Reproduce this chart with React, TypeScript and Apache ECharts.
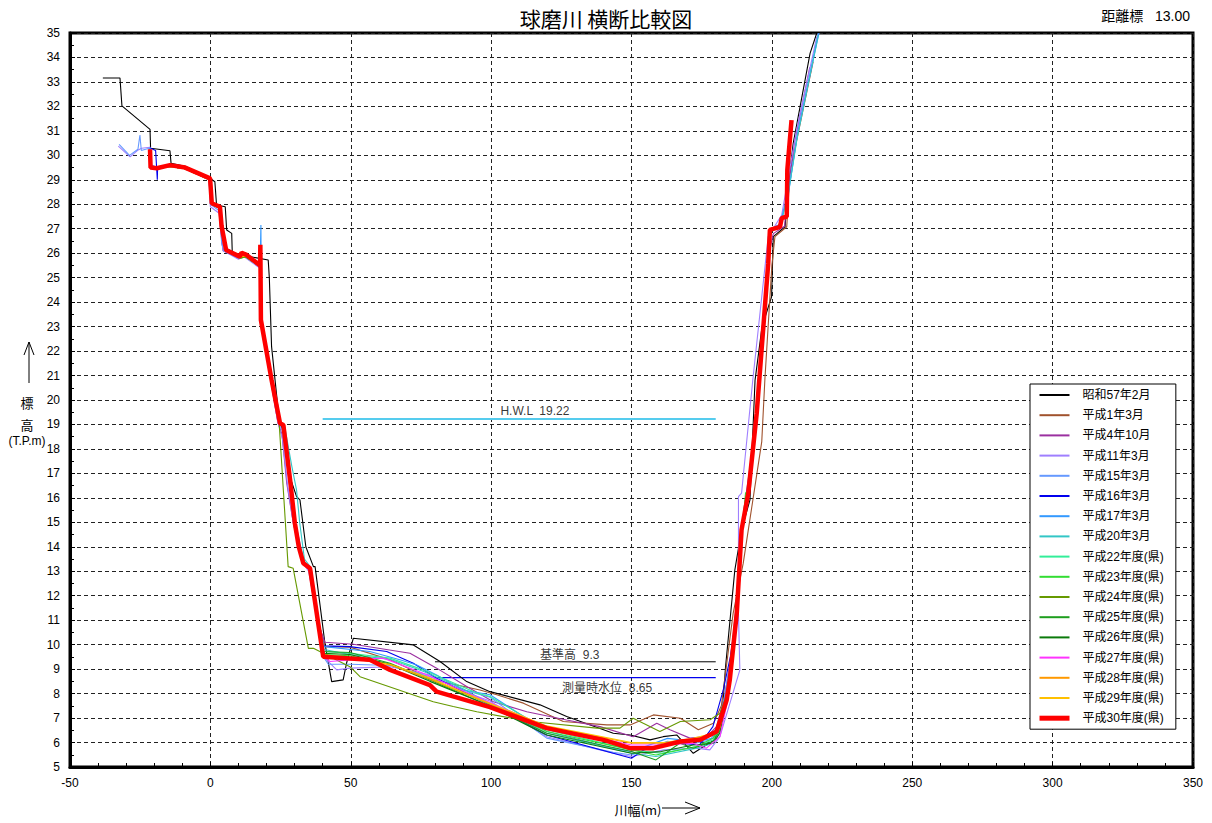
import React, { useEffect, useRef } from "react";
import * as echarts from "echarts";

const FONT = "'Liberation Sans', 'Noto Sans CJK JP', sans-serif";

const seriesNames = [
  "昭和57年2月", "平成1年3月", "平成4年10月", "平成11年3月", "平成15年3月", "平成16年3月",
  "平成17年3月", "平成20年3月", "平成22年度(県)", "平成23年度(県)", "平成24年度(県)",
  "平成25年度(県)", "平成26年度(県)", "平成27年度(県)", "平成28年度(県)", "平成29年度(県)", "平成30年度(県)",
];
const seriesColors = [
  "#000000", "#A0522D", "#9B30A0", "#9F7FFF", "#6699FF", "#0000EE",
  "#3399FF", "#33C6C6", "#33EE99", "#33DD33", "#669900",
  "#1E9E1E", "#0B7A0B", "#FF33FF", "#FF9900", "#FFC000", "#FF0000",
];

const s57 = [[-38.3,33.16],[-32.2,33.16],[-31.5,32.02],[-21.5,31.06],[-21.3,30.29],[-14.4,30.19],[-14.0,29.67],[-9,29.55],[-0.5,29.1],[1.6,28.92],[2.2,27.97],[5.3,27.9],[5.8,26.95],[7.6,26.81],[7.8,26.0],[20.6,25.72],[21.0,25.0],[21.8,22.18],[24.5,19.2],[26.5,18.5],[28.8,16.7],[30.7,16.05],[31.9,15.92],[34.0,14.0],[36.7,13.19],[37.3,13.19],[40.8,10.06],[43.2,8.49],[47.3,8.56],[48.5,9.24],[50.9,10.26],[72.3,9.99],[81.8,9.31],[91.3,8.49],[99.6,8.08],[117.4,7.54],[126.9,7.06],[143.5,6.38],[149.5,6.31],[156.6,6.11],[161.3,6.24],[166.1,6.31],[172,5.56],[175.6,5.83],[179.7,6.11],[182.5,7.5],[183.5,9.1],[186.8,13.05],[189.2,14.69],[192.2,15.92],[194,20.8],[196.5,23.0],[199.9,24.22],[200.5,26.68],[204.7,27.08],[205.8,28.72],[207.6,30.49],[213.6,34.17],[216,35]];
const h01 = [[-21.5,30.3],[-21.2,29.55],[-19,29.5],[-14.5,29.6],[-9,29.5],[-0.3,29.05],[0.3,28.0],[3.2,27.9],[3.8,27.1],[5.2,26.15],[10.3,25.85],[11,26.0],[13,25.9],[17.5,25.55],[17.9,23.3],[21.5,20.9],[24.5,19.1],[26,18.9],[28.5,16.7],[30.2,15.0],[33.2,13.3],[35.8,13.1],[38.6,10.9],[40.8,9.92],[49.7,9.9],[64,9.38],[79.4,8.56],[96,8.15],[102,7.95],[111.5,7.61],[125.7,6.86],[141.2,6.72],[149.5,6.72],[157.8,7.13],[167.4,6.99],[173.8,6.52],[179.2,6.79],[182,7.5],[186.2,11.28],[189.8,13.33],[196.4,18.3],[197.5,20.82],[200,25.5],[201.1,26.68],[205.3,27.08],[206.4,29.27],[214.7,33.83]];
const h04 = [[-21.5,30.35],[-21.3,29.54],[-19,29.45],[-14.5,29.55],[-9,29.45],[-0.5,29.0],[0.2,28.0],[3,27.85],[3.6,27.0],[4.5,26.1],[10,25.8],[11,25.95],[13,25.85],[17.5,25.45],[18,23.3],[21.5,20.8],[24,19.1],[25.5,18.6],[27.2,16.6],[29.5,15.0],[32.5,13.5],[35,13.1],[38,11.0],[40.8,10.1],[50.9,10.02],[71.1,9.65],[80.6,9.04],[91.3,8.29],[100.8,7.67],[112.7,7.26],[126.9,6.92],[138.8,6.65],[150.6,6.24],[159,6.79],[163.7,6.52],[170.8,6.18],[176.8,6.24],[180.3,6.65],[183,7.8],[185.5,9.5],[188,12.5],[190,15.5],[192.5,17.5],[195.5,20.5],[199,26.0],[200.5,26.8],[204.5,27.1],[206,28.8],[208,30.5],[213.5,33.6]];
const h11 = [[-32.8,30.38],[-28.6,29.94],[-25.7,30.22],[-24.5,30.29],[-21.5,30.33],[-21,29.6],[-19,29.5],[-14.5,29.6],[-9,29.5],[-0.5,29.0],[0,27.9],[3.5,27.6],[4,26.5],[4.6,26.1],[10,25.75],[12,25.85],[17.5,25.4],[18,23.3],[21.5,20.8],[24,19.1],[25.7,18.4],[27.5,16.5],[29.5,15.0],[32.5,13.4],[35,13.0],[38.2,11.0],[40.5,9.7],[41.4,9.38],[45,8.97],[49.7,9.04],[64,9.1],[78.2,8.76],[90,8.1],[99.6,7.7],[119.8,6.24],[143.5,5.56],[150,5.43],[161.6,5.7],[173.2,5.77],[177.9,5.7],[181.5,6.24],[188.6,8.97],[188.1,11.28],[188.1,16.05],[189.2,16.19],[193.2,20.82],[198.7,26.68],[203.5,27.56],[208.8,31.04],[216,34.85]];
const h15 = [[-32.5,30.45],[-28.8,30.0],[-25.8,30.25],[-25.1,30.83],[-24.6,30.2],[-21.5,30.3],[-21,29.6],[-19,29.5],[-14.5,29.6],[-9,29.5],[-0.4,29.0],[0,28.0],[3.5,27.7],[4,26.4],[4.8,26.1],[10,25.8],[12,25.9],[17.5,25.45],[18,23.3],[21.5,20.8],[24.2,19.1],[25.8,18.7],[28,16.7],[30,15.0],[33,13.4],[35.5,13.1],[38.3,11.0],[40.3,9.5],[42,9.2],[50,9.2],[64,9.15],[78,8.7],[90,8.15],[99.6,7.85],[119.8,6.18],[143.5,5.6],[150,5.49],[162.8,6.05],[172,5.95],[178,6.1],[181,6.6],[183,7.8],[185.5,9.5],[187.5,11.5],[189.5,14.8],[191.8,16.3],[194.8,19.6],[198.8,25.7],[199.5,26.9],[203,27.2],[204,27.6],[206,28.5],[209,30.8],[216.5,35]];
const h16 = [[-21.5,30.3],[-19.5,30.2],[-18.9,29.0],[-18.8,29.5],[-14.5,29.6],[-9,29.5],[-0.3,29.05],[0.4,28.0],[3.3,27.9],[3.9,27.1],[5.4,26.2],[10.5,25.9],[11.2,26.05],[13,25.95],[17.6,25.5],[18,23.3],[21.5,20.9],[24.5,19.1],[26,18.9],[28.4,16.7],[30.1,15.0],[33.1,13.4],[35.5,13.1],[38.5,10.9],[40.3,9.95],[49.7,9.92],[62.8,9.72],[72.3,9.24],[80.6,8.63],[96,7.74],[119.8,6.31],[150,5.36],[155.3,5.77],[167.2,5.97],[174.2,5.9],[179,6.65],[182.7,8.15],[185.2,9.5],[187.5,11.3],[189.3,14.7],[191.7,16.2],[194.7,19.5],[198.8,25.6],[199.4,26.9],[203,27.1]];
const h17 = [[-21.5,30.3],[-21,29.5],[-19,29.45],[-14.5,29.6],[-9,29.5],[-0.3,29.05],[0.4,28.0],[3.3,27.9],[3.9,27.1],[5.4,26.2],[10.5,25.9],[11.2,26.0],[13,25.9],[17.7,25.5],[18,27.15],[18.1,25.4],[18.3,23.3],[21.7,20.85],[24.7,19.1],[26.2,18.9],[28.6,16.7],[30.3,15.0],[33.3,13.4],[35.7,13.1],[38.6,10.9],[40.5,9.92],[56.8,9.72],[67.5,9.38],[73.5,9.17],[80.6,8.76],[90.1,8.15],[99.6,7.95],[119.8,6.45],[143.5,5.77],[150,5.63],[162.8,6.17],[173.2,6.04],[179.1,6.18],[181.5,6.7],[183.5,7.9],[185.3,9.4],[187.6,11.4],[189.4,14.8],[191.8,16.3],[194.9,19.6],[198.9,25.7],[199.6,27.0],[203.2,27.2],[204,27.7],[206,28.6],[209.3,31.0],[216.8,35]];
const h20 = [[-21.5,30.25],[-21,29.5],[-19,29.45],[-14.5,29.55],[-9,29.45],[-0.3,29.0],[0.4,28.0],[3.3,27.85],[3.9,27.05],[5.4,26.1],[10.5,25.85],[12,25.9],[17.7,25.5],[18.1,23.3],[21.9,20.8],[25,19.1],[26.5,18.9],[29,17.3],[30.7,16.32],[31.8,15.0],[33.5,13.5],[35.8,13.15],[38.7,10.9],[40.5,9.8],[49.7,9.6],[64,9.4],[76,8.9],[90,8.2],[96,7.81],[119.8,6.38],[150,5.56],[158.7,5.43],[173.2,5.77],[179.1,5.97],[181.5,6.4],[183.8,7.7],[185.2,8.8],[187.6,11.3],[189.3,14.7],[191.7,16.2],[194.7,19.5],[198.8,25.6],[199.5,26.95],[203,27.1],[203.8,27.5],[205.8,28.4],[209,30.7],[216.5,34.9]];
const h22 = [[-21.5,30.2],[-21.2,29.5],[-19,29.45],[-14.5,29.55],[-9,29.45],[-0.2,29.0],[0.5,28.0],[3.4,27.85],[4,27.05],[5.6,26.1],[10.5,25.85],[12.5,25.9],[17.7,25.45],[18.1,23.25],[21.8,20.8],[24.8,19.05],[26,18.95],[28.4,16.7],[30.1,14.95],[33.1,13.3],[35.5,13.1],[38.4,10.9],[40.2,9.72],[49.7,9.65],[64,9.45],[75.8,8.97],[94.9,8.02],[99.6,7.88],[119.8,6.52],[150,5.7],[160.5,5.56],[173.2,5.84],[179.1,6.11],[181.5,6.6],[183.9,7.8],[185,8.6],[187.5,11.3],[189.2,14.7],[191.6,16.2],[194.6,19.5],[198.5,25.0]];
const h23 = [[-21.5,30.2],[-21.2,29.5],[-19,29.45],[-14.5,29.55],[-9,29.45],[-0.2,29.0],[0.5,28.0],[3.4,27.85],[4,27.05],[5.6,26.1],[10.5,25.8],[12.5,25.85],[17.7,25.45],[18.1,23.25],[21.8,20.8],[24.8,19.1],[26,18.95],[28.4,16.7],[30.1,14.95],[33.1,13.35],[35.5,13.1],[38.4,10.9],[40.3,9.6],[49.7,9.55],[64,9.2],[78,8.6],[96,7.74],[119.8,6.45],[150,5.7],[158.7,5.49],[173.2,5.84],[179.1,6.18],[181.5,6.6],[184,7.8],[185.2,8.6],[187.7,11.3],[189.5,14.7],[190.6,16.19],[191.5,16.3],[192.5,17.0]];
const h24 = [[-21.5,30.2],[-21.2,29.5],[-19,29.45],[-14.5,29.55],[-9,29.45],[-0.2,29.0],[0.5,28.0],[3.4,27.85],[4,27.05],[5.6,26.1],[10.5,25.8],[12.5,25.85],[17.7,25.45],[18.1,23.25],[21.8,20.8],[24.2,19.25],[24.5,19.05],[27.7,13.19],[29.5,13.12],[34.9,9.85],[36.7,9.85],[40.2,9.65],[49.7,9.1],[53.3,8.69],[79.4,7.67],[86.5,7.47],[94.9,7.26],[113.8,6.86],[137.6,6.59],[145.9,6.59],[150.6,6.99],[160.1,6.45],[167.4,6.86],[178,6.93],[181.5,7.2],[184,8.0],[185.3,8.8],[187.8,11.4],[189.5,14.8],[191.5,16.2]];
const h25 = [[-21.5,30.2],[-21.2,29.5],[-19,29.45],[-14.5,29.55],[-9,29.45],[-0.2,29.0],[0.5,28.0],[3.4,27.85],[4,27.05],[5.6,26.1],[10.5,25.85],[12.5,25.9],[17.7,25.45],[18.1,23.25],[21.8,20.8],[24.8,19.1],[26,18.95],[28.4,16.7],[30.1,14.95],[33.1,13.4],[35.5,13.15],[38.4,10.9],[40.2,9.72],[49.7,9.68],[64,9.24],[78.2,8.56],[96,7.67],[119.8,6.38],[150,5.63],[158.7,5.29],[167.2,5.97],[172,5.77],[179.1,6.04],[181.5,6.5],[184,7.8],[185.2,8.7],[187.6,11.3],[189.3,14.7],[191.7,16.2],[194.7,19.5],[198.7,25.6],[199.3,26.9],[203,27.1]];
const h26 = [[-21.5,30.2],[-21.2,29.5],[-19,29.45],[-14.5,29.55],[-9,29.45],[-0.2,29.0],[0.5,28.0],[3.4,27.85],[4,27.05],[5.6,26.1],[10.5,25.85],[12.5,25.9],[17.7,25.45],[18.1,23.25],[21.8,20.8],[24.8,19.1],[26,18.95],[28.4,16.7],[30.1,14.95],[33.1,13.35],[35.5,13.1],[38.4,10.9],[40.2,9.65],[49.7,9.6],[64,9.2],[78.2,8.5],[96,7.67],[119.8,6.31],[150,5.56],[160.6,5.63],[172,5.9],[179.1,5.97],[181.5,6.4],[184,7.8],[185.1,8.6],[187.6,11.3],[189.3,14.7],[191.7,16.2],[194.7,19.5],[198.7,25.6],[199.3,26.95],[203,27.1]];
const h27 = [[-21.5,30.2],[-21.2,29.5],[-19,29.45],[-14.5,29.55],[-9,29.45],[-0.2,29.0],[0.5,28.0],[3.4,27.85],[4,27.05],[5.6,26.1],[10.5,25.85],[12.5,25.9],[17.7,25.45],[18.1,23.25],[21.8,20.8],[24.8,19.05],[26,18.95],[28.4,16.7],[30.1,14.95],[33.1,13.3],[35.5,13.1],[38.4,10.9],[40.5,9.5],[42.6,9.31],[49.7,9.38],[61.6,9.45],[75.8,8.83],[96,7.81],[119.8,6.65],[150,5.9],[161.6,5.9],[172,5.97],[176.7,5.77],[181.5,6.24],[184,7.6],[185.1,8.6],[187.5,11.3],[189.2,14.7],[191.6,16.2],[194.6,19.5],[198.7,25.6],[199.3,26.95],[203,27.08]];
const h28 = [[-21.5,30.2],[-21.2,29.5],[-19,29.45],[-14.5,29.55],[-9,29.45],[-0.2,29.0],[0.5,28.0],[3.4,27.85],[4,27.05],[5.6,26.1],[10.5,25.85],[12.5,25.9],[17.7,25.45],[18.1,23.25],[21.8,20.8],[24.8,19.05],[26,18.95],[28.4,16.7],[30.1,14.95],[33.1,13.3],[35.5,13.1],[38.4,10.9],[40.2,9.6],[50,9.45],[64,9.17],[78,8.6],[96,7.74],[119.8,6.65],[150,5.97],[161.6,5.97],[172,6.11],[179.1,6.31],[181.5,6.6],[184,7.8],[185.1,8.6],[187.5,11.3],[189.2,14.7],[191.6,16.2],[194.6,19.5],[198.7,25.6],[199.3,26.95],[203,27.08]];
const h29 = [[-21.5,30.2],[-21.2,29.5],[-19,29.45],[-14.5,29.55],[-9,29.45],[-0.2,29.0],[0.5,28.0],[3.4,27.85],[4,27.05],[5.6,26.1],[10.5,25.85],[12.5,25.9],[17.7,25.45],[18.1,23.25],[21.8,20.8],[24.8,19.05],[26,18.95],[28.4,16.7],[30.1,14.95],[33.1,13.3],[35.5,13.1],[38.4,10.9],[40.2,9.55],[50,9.45],[64,9.2],[78,8.65],[96,7.77],[119.8,6.68],[150,6.0],[161.6,6.0],[172,6.17],[179.1,6.38],[181.5,6.7],[184,7.9],[185.1,8.6],[187.5,11.3],[189.2,14.7],[191.6,16.2],[194.6,19.5],[198.7,25.6],[199.3,26.95],[203,27.08]];
const h30 = [[-21.5,30.25],[-21.3,29.5],[-19.1,29.47],[-14.4,29.6],[-9.0,29.5],[-0.1,29.06],[0.5,28.04],[3.4,27.9],[4.0,27.1],[5.6,26.13],[10.5,25.86],[11.1,26.02],[12.9,25.93],[17.7,25.5],[17.8,26.34],[18.0,23.27],[21.8,20.82],[24.8,19.05],[26.0,18.98],[28.4,16.73],[30.1,14.96],[31.5,14.0],[33.1,13.33],[35.5,13.12],[38.4,10.88],[40.2,9.51],[56.8,9.38],[64.0,8.97],[78.2,8.35],[80.6,8.08],[99.6,7.45],[119.8,6.59],[140,6.11],[149.5,5.77],[157.8,5.77],[167.4,6.04],[174.5,6.11],[180.3,6.45],[183.9,7.74],[185,8.56],[187.5,11.28],[189.2,14.69],[191.6,16.19],[194.6,19.46],[198.7,25.59],[199.3,26.95],[202.9,27.08],[203.5,27.43],[205.3,27.5],[205.5,29.4],[207.0,31.44]];

const seriesData = [s57, h01, h04, h11, h15, h16, h17, h20, h22, h23, h24, h25, h26, h27, h28, h29, h30];

const hwlLine = [[40, 19.22], [180, 19.22]];
const kijunLine = [[80, 9.3], [180, 9.3]];
const suiiLine = [[80, 8.65], [180, 8.65]];
const refLabels = [
  { x: 115.6, y: 19.22, text: "H.W.L  19.22", pos: "top", dist: 2 },
  { x: 128, y: 9.3, text: "基準高  9.3", pos: "top", dist: 1 },
  { x: 141.3, y: 8.65, text: "測量時水位  8.65", pos: "bottom", dist: 4 },
];

export default function App() {
  const ref = useRef<HTMLDivElement>(null);
  useEffect(() => {
    document.body.style.margin = "0";
    const chart = echarts.init(ref.current!, null, { renderer: "svg" });
    const lineSeries: any[] = seriesNames.map((name, i) => ({
      name,
      type: "line",
      data: seriesData[i],
      symbol: "none",
      z: i === 16 ? 10 : 3,
      lineStyle: { color: seriesColors[i], width: i === 16 ? 4.5 : 1.1 },
      itemStyle: { color: seriesColors[i] },
      emphasis: { disabled: true },
    }));
    const refSeries: any[] = [
      { type: "line", data: hwlLine, symbol: "none", lineStyle: { color: "#55CCEE", width: 2 }, z: 2, silent: true },
      { type: "line", data: kijunLine, symbol: "none", lineStyle: { color: "#000", width: 1 }, z: 2, silent: true },
      { type: "line", data: suiiLine, symbol: "none", lineStyle: { color: "#0000EE", width: 1.2 }, z: 2, silent: true },
      {
        type: "scatter",
        symbolSize: 0,
        silent: true,
        z: 11,
        data: refLabels.map((l) => ({
          value: [l.x, l.y],
          label: {
            show: true,
            position: l.pos,
            distance: l.dist,
            formatter: l.text,
            color: "#000",
            fontSize: 12,
            fontFamily: FONT,
          },
        })),
      },
    ];
    chart.setOption({
      animation: false,
      backgroundColor: "#fff",
      grid: { left: 70, top: 33, width: 1123, height: 734, show: true, borderColor: "#000", borderWidth: 3, backgroundColor: "transparent" },
      xAxis: {
        type: "value", min: -50, max: 350, interval: 50,
        axisLine: { show: true, onZero: false, lineStyle: { color: "#000", width: 3 } },
        axisTick: { show: true, inside: true, length: 5, lineStyle: { color: "#000" } },
        minorTick: { show: true, splitNumber: 5, length: 4, lineStyle: { color: "#000" } },
        splitLine: { show: true, lineStyle: { color: "#222", type: [4, 3], width: 1 } },
        axisLabel: { color: "#000", fontSize: 12, margin: 10, fontFamily: FONT },
      },
      yAxis: {
        type: "value", min: 5, max: 35, interval: 1,
        axisLine: { show: true, onZero: false, lineStyle: { color: "#000", width: 3 } },
        axisTick: { show: true, inside: true, length: 5, lineStyle: { color: "#000" } },
        minorTick: { show: true, splitNumber: 2, length: 4, lineStyle: { color: "#000" } },
        splitLine: { show: true, lineStyle: { color: "#222", type: [4, 3], width: 1 } },
        axisLabel: { color: "#000", fontSize: 12, margin: 10, fontFamily: FONT },
      },
      legend: {
        data: seriesNames.map((name, i) => ({ name, lineStyle: { width: i === 16 ? 5 : 2 } })),
        orient: "vertical",
        left: 1030,
        top: 384,
        itemWidth: 30,
        itemHeight: 14,
        itemGap: 8.2,
        padding: [5, 12, 5, 7],
        borderColor: "#000",
        borderWidth: 1,
        backgroundColor: "#fff",
        selectedMode: false,
        itemStyle: { opacity: 0 },
        textStyle: { color: "#000", fontSize: 12, fontFamily: FONT, padding: [0, 0, 0, 8] },
        z: 20,
      },
      graphic: [
        { type: "text", left: "center", top: 7, style: { text: "球磨川 横断比較図", font: "21px 'Noto Sans CJK JP', sans-serif", fill: "#000" } },
        { type: "text", right: 22, top: 9, style: { text: "距離標   13.00", font: "14px 'Liberation Sans', 'Noto Sans CJK JP', sans-serif", fill: "#000" } },
        { type: "line", shape: { x1: 29, y1: 383, x2: 29, y2: 342 }, style: { stroke: "#000", lineWidth: 1 } },
        { type: "polyline", shape: { points: [[24, 355], [29, 342], [34, 355]] }, style: { stroke: "#000", lineWidth: 1, fill: "none" } },
        { type: "text", x: 27, y: 402, style: { text: "標", font: "13px 'Noto Sans CJK JP', sans-serif", fill: "#000", align: "center", verticalAlign: "middle" } },
        { type: "text", x: 27, y: 424, style: { text: "高", font: "13px 'Noto Sans CJK JP', sans-serif", fill: "#000", align: "center", verticalAlign: "middle" } },
        { type: "text", x: 27, y: 441, style: { text: "(T.P.m)", font: "12px 'Liberation Sans', sans-serif", fill: "#000", align: "center", verticalAlign: "middle" } },
        { type: "text", x: 638, y: 809, style: { text: "川幅(m)", font: "13px 'Noto Sans CJK JP', sans-serif", fill: "#000", align: "center", verticalAlign: "middle" } },
        { type: "line", shape: { x1: 662, y1: 808, x2: 700, y2: 808 }, style: { stroke: "#000", lineWidth: 1 } },
        { type: "polyline", shape: { points: [[685, 802], [700, 808], [685, 814]] }, style: { stroke: "#000", lineWidth: 1, fill: "none" } },
      ],
      series: [...refSeries, ...lineSeries],
    });
    return () => chart.dispose();
  }, []);
  return <div ref={ref} style={{ position: "absolute", left: 0, top: 0, width: 1212, height: 823 }} />;
}
